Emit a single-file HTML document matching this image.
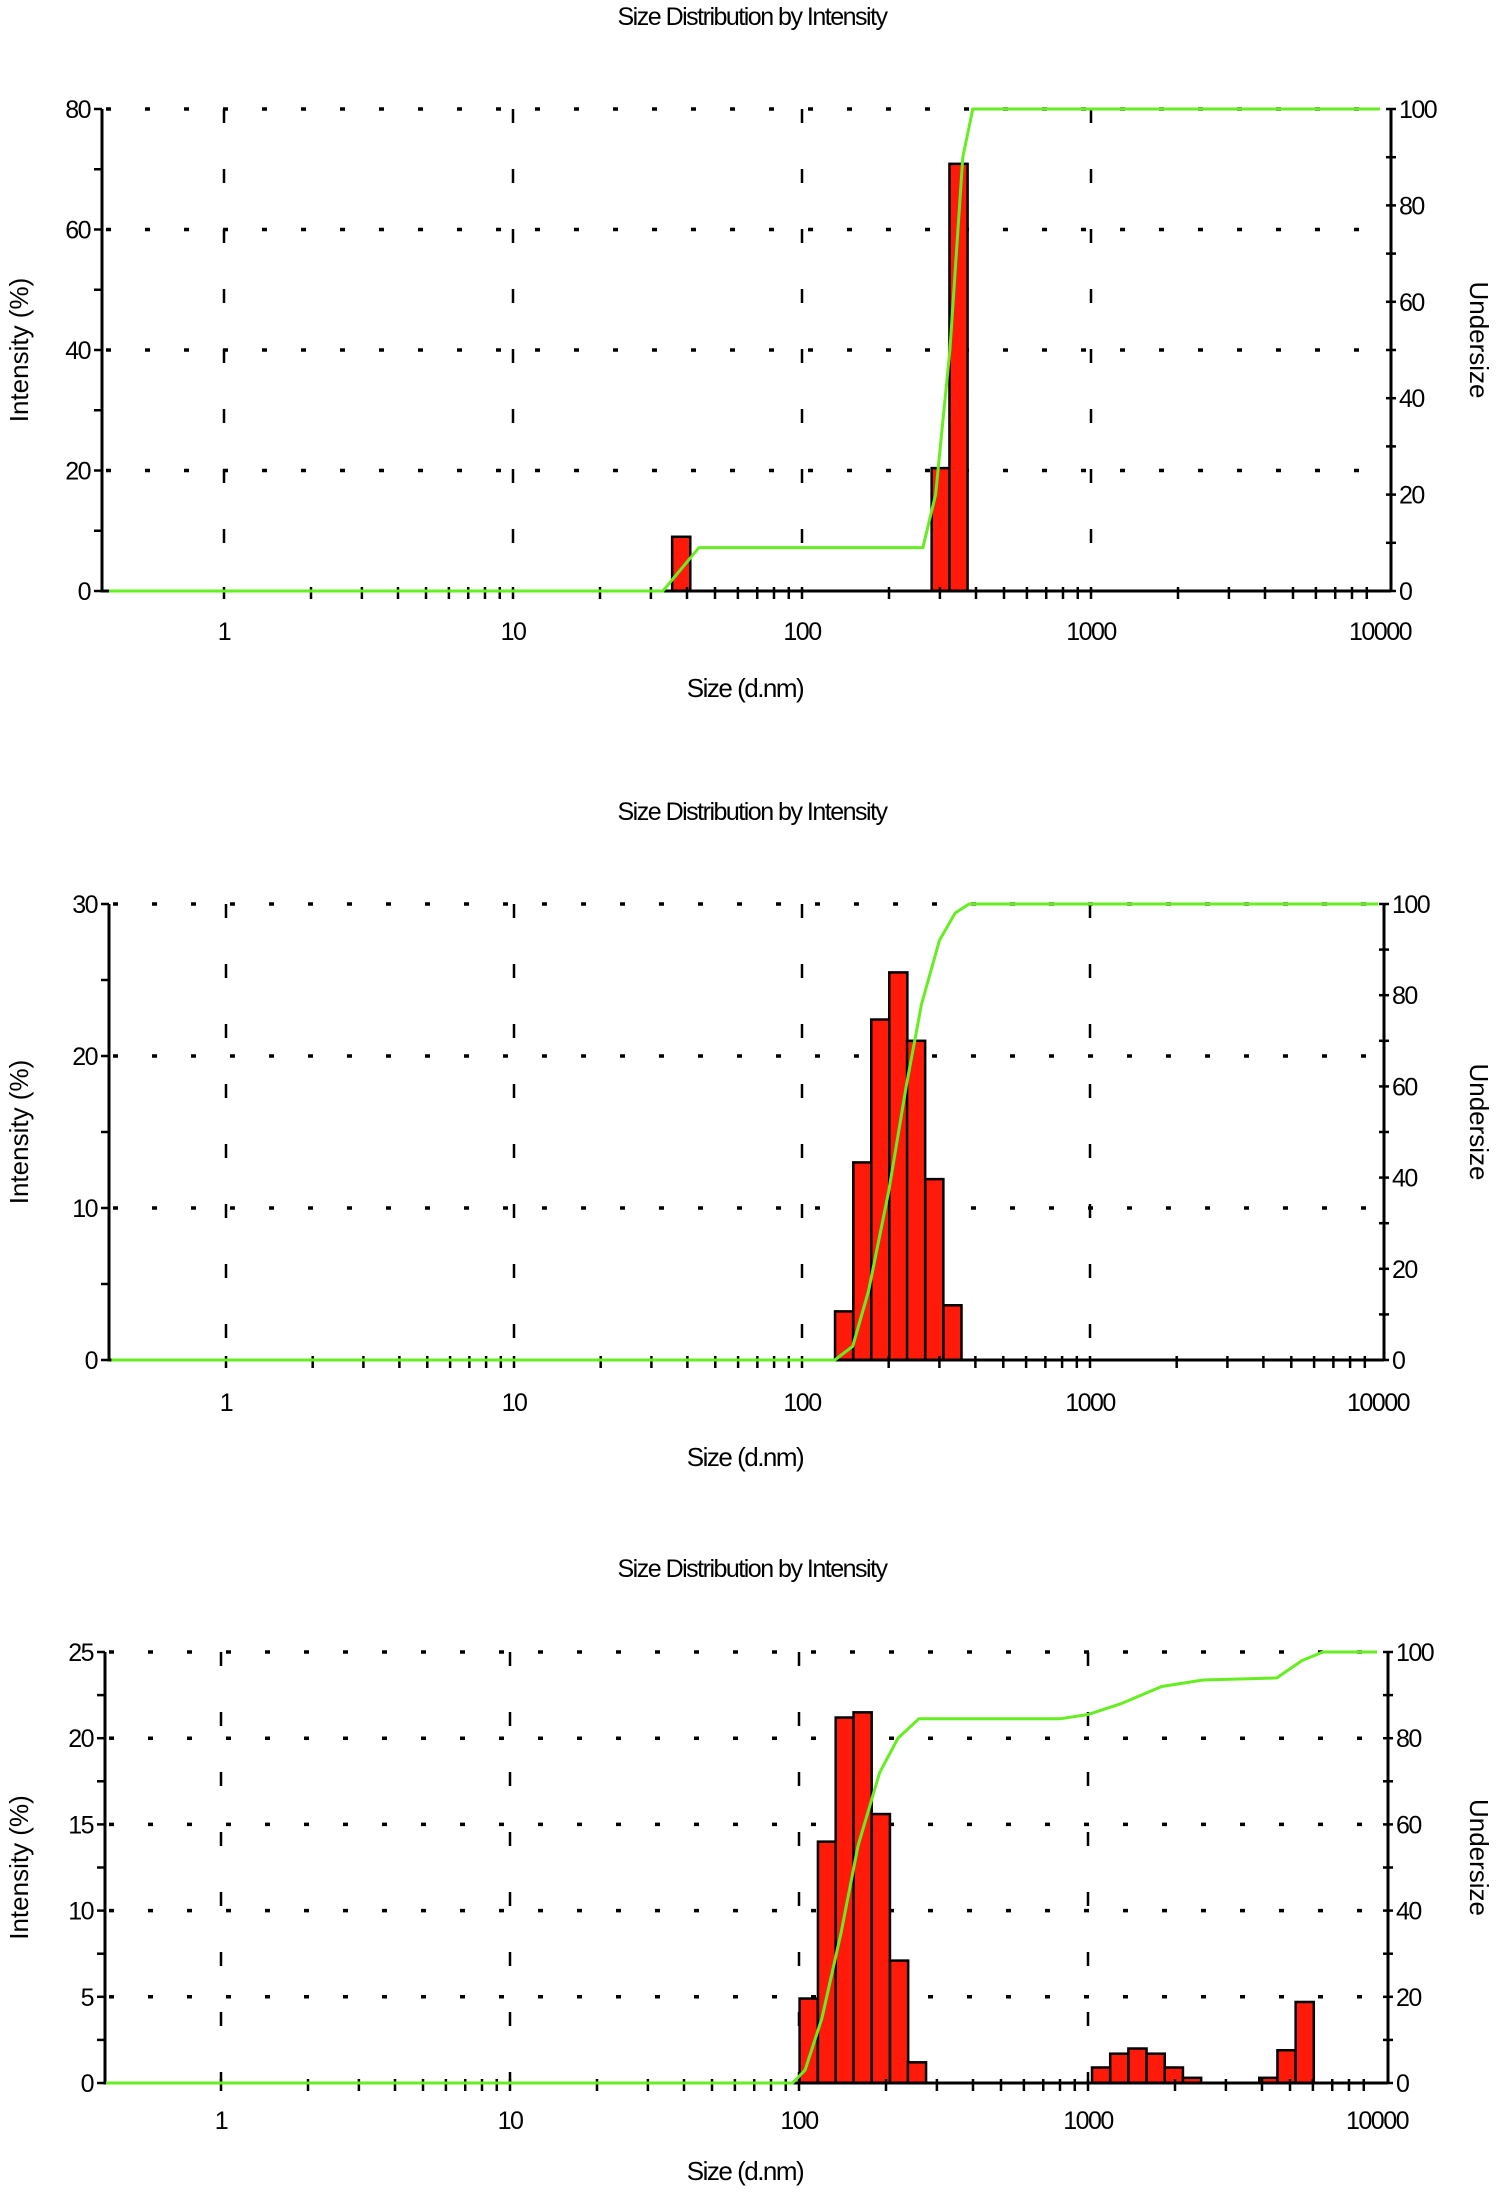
<!DOCTYPE html>
<html><head><meta charset="utf-8">
<style>
body{margin:0;background:#fff;}
svg{display:block;font-family:"Liberation Sans",sans-serif;}
</style></head>
<body>
<svg id="root" width="1504" height="2192" viewBox="0 0 1504 2192"></svg>
<script>
// ---- Chart 1 data ----
const c1Sizes = [38.2, 302, 348];
const c1Values = [9.0, 20.4, 70.9];
const c1CumSizes = [0.4, 33, 44, 262, 290, 325, 360, 390, 10000];
const c1CumValues = [0, 0, 9, 9, 20, 50, 90, 100, 100];
const c1YTicks = [0, 20, 40, 60, 80];
// ---- Chart 2 data ----
const c2Sizes = [140, 162, 187, 216, 249, 288, 333];
const c2Values = [3.2, 13.0, 22.4, 25.5, 21.0, 11.9, 3.6];
const c2CumSizes = [0.4, 130, 150, 170, 200, 230, 260, 300, 340, 380, 10000];
const c2CumValues = [0, 0, 3, 15, 37, 60, 78, 92, 98, 100, 100];
const c2YTicks = [0, 10, 20, 30];
// ---- Chart 3 data ----
const c3Sizes = [108, 125, 144, 166, 192, 222, 256, 1110, 1283, 1483, 1715, 1982, 2291, 4207, 4863, 5622];
const c3Values = [4.9, 14.0, 21.2, 21.5, 15.6, 7.1, 1.2, 0.9, 1.7, 2.0, 1.7, 0.9, 0.3, 0.3, 1.9, 4.7];
const c3CumSizes = [0.4, 95, 105, 120, 140, 160, 190, 220, 260, 800, 1000, 1300, 1800, 2500, 4500, 5500, 6500, 10000];
const c3CumValues = [0, 0, 3, 15, 35, 55, 72, 80, 84.5, 84.5, 85.5, 88, 92, 93.5, 94, 98, 100, 100];
const c3YTicks = [0, 5, 10, 15, 20, 25];
// shared
const xTickValues = [1, 10, 100, 1000, 10000];
const xTickLabels = ["1", "10", "100", "1000", "10000"];
const rightTicks = [0, 20, 40, 60, 80, 100];

const NS = "http://www.w3.org/2000/svg";
const root = document.getElementById("root");
function mk(tag, attrs, parent, text) {
  const e = document.createElementNS(NS, tag);
  for (const k in attrs) e.setAttribute(k, attrs[k]);
  if (text !== undefined) e.textContent = text;
  parent.appendChild(e);
  return e;
}
const BINW = 0.0628;

function chart(cfg, sizes, values, cumS, cumV, yTicks, idx) {
  const g = mk("g", {}, root);
  
  
  const {L, R, T, B, x1, dec, ymax, titleY, tickY, xlabY} = cfg;
  const xs = v => x1 + Math.log10(v) * dec;
  const ys = v => B - v / ymax * (B - T);
  const yr = v => B - v / 100 * (B - T);
  const t = mk("text", {x: 752, y: titleY, "text-anchor": "middle", "font-size": 25, "letter-spacing": "-1.5"}, g, "Size Distribution by Intensity");
  
  
  yTicks.forEach(v => {
    if (v === 0) return;
    const l = mk("line", {x1: L + 4, x2: R, y1: ys(v), y2: ys(v), stroke: "#000", "stroke-width": 3.5, "stroke-dasharray": "5 34"}, g);
    
    
  });
  xTickValues.slice(0, 4).forEach(v => {
    const l = mk("line", {x1: xs(v), x2: xs(v), y1: T, y2: B, stroke: "#000", "stroke-width": 2.5, "stroke-dasharray": "14 46"}, g);
    
    
  });
  sizes.forEach((s, i) => {
    const lc = Math.log10(s);
    const xa = x1 + (lc - BINW / 2) * dec, xb = x1 + (lc + BINW / 2) * dec;
    const r = mk("rect", {x: xa, y: ys(values[i]), width: xb - xa, height: B - ys(values[i]), fill: "#ff1a0a", stroke: "#000", "stroke-width": 2.5}, g);
    
    
  });
  const ax = mk("path", {d: `M${L},${T}V${B}H${R}M${R},${T}V${B}`, stroke: "#000", "stroke-width": 3, fill: "none"}, g);
  
  
  const step = yTicks[1] - yTicks[0];
  for (let v = 0; v <= ymax + 1e-9; v += step / 2) {
    mk("line", {x1: L - 8, x2: L, y1: ys(v), y2: ys(v), stroke: "#000", "stroke-width": 2.5}, g);
  }
  yTicks.forEach(v => {
    const tl = mk("text", {x: L - 12, y: ys(v) + 9, "text-anchor": "end", "font-size": 25, "letter-spacing": "-1.5"}, g, String(v));
    
    
  });
  for (let v = 0; v <= 100; v += 10) {
    mk("line", {x1: R - 5, x2: R + 5, y1: yr(v), y2: yr(v), stroke: "#000", "stroke-width": 2.5}, g);
  }
  rightTicks.forEach(v => {
    const tl = mk("text", {x: R + 8, y: yr(v) + 9, "font-size": 25, "letter-spacing": "-1.5"}, g, String(v));
    
    
  });
  for (let d = 0; d <= 3; d++) {
    for (let m = 1; m <= 9; m++) {
      const val = m * Math.pow(10, d);
      const x = xs(val);
      if (x > R) continue;
      mk("line", {x1: x, x2: x, y1: B - 4, y2: B + 8, stroke: "#000", "stroke-width": 2.5}, g);
    }
  }
  xTickValues.forEach((v, i) => {
    const tl = mk("text", {x: xs(v), y: tickY, "text-anchor": "middle", "font-size": 25, "letter-spacing": "-1.5"}, g, xTickLabels[i]);
    
    
  });
  let d = "";
  cumS.forEach((s, i) => {
    const x = Math.max(L, Math.min(R, xs(s)));
    d += (i ? "L" : "M") + x.toFixed(1) + "," + yr(cumV[i]).toFixed(1);
  });
  const p = mk("path", {d, stroke: "#66ee22", "stroke-width": 3, fill: "none"}, g);
  
  
  const xl = mk("text", {x: 745, y: xlabY, "text-anchor": "middle", "font-size": 26, "letter-spacing": "-1.5"}, g, "Size (d.nm)");
  
  
  const cy = (T + B) / 2;
  const yl = mk("text", {x: 28, y: cy, "text-anchor": "middle", "font-size": 26, transform: `rotate(-90 28 ${cy})`}, g, "Intensity (%)");
  
  
  const ul = mk("text", {x: 1470, y: cy - 10, "text-anchor": "middle", "font-size": 26, transform: `rotate(90 1470 ${cy - 10})`}, g, "Undersize");
  
  
}

chart({L: 102, R: 1391, T: 109, B: 591, x1: 224, dec: 289, ymax: 80, titleY: 25, tickY: 640, xlabY: 697}, c1Sizes, c1Values, c1CumSizes, c1CumValues, c1YTicks, 1);
chart({L: 109, R: 1384, T: 904, B: 1360, x1: 226, dec: 288, ymax: 30, titleY: 820, tickY: 1411, xlabY: 1466}, c2Sizes, c2Values, c2CumSizes, c2CumValues, c2YTicks, 2);
chart({L: 105, R: 1388, T: 1652, B: 2083, x1: 221, dec: 289, ymax: 25, titleY: 1577, tickY: 2129, xlabY: 2180}, c3Sizes, c3Values, c3CumSizes, c3CumValues, c3YTicks, 3);
</script>
</body></html>
